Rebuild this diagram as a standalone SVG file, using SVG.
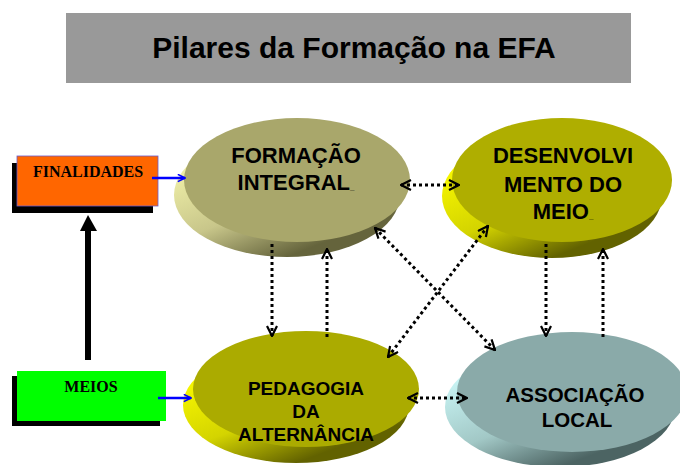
<svg xmlns="http://www.w3.org/2000/svg" width="680" height="465" viewBox="0 0 680 465">
<defs>
<style>
.ttl{font-family:"Liberation Sans",Arial,sans-serif;font-weight:bold;font-size:30px;fill:#000;text-anchor:middle}
.nt{font-family:"Liberation Sans",Arial,sans-serif;font-weight:bold;fill:#000;text-anchor:middle}
.bx{font-family:"Liberation Serif","Times New Roman",serif;font-weight:bold;font-size:16px;fill:#000;text-anchor:middle}
.dot{fill:none;stroke:#000;stroke-width:3;stroke-dasharray:3 3}
.blue{fill:none;stroke:#0000FF;stroke-width:2.5}
.sm{font-size:8px}
</style>
<marker id="chev" viewBox="0 0 12 12" refX="11" refY="6" markerWidth="12" markerHeight="12" markerUnits="userSpaceOnUse" orient="auto-start-reverse">
<path d="M1,1 L11,6 L1,11" fill="none" stroke="#000" stroke-width="2.2"/>
</marker>
<marker id="bchev" viewBox="0 0 10 10" refX="9" refY="5" markerWidth="9" markerHeight="9" markerUnits="userSpaceOnUse" orient="auto">
<path d="M1,1 L9,5 L1,9" fill="none" stroke="#0000FF" stroke-width="1.8"/>
</marker>
<linearGradient id="gF" x1="0" y1="0.3" x2="0.5" y2="1">
<stop offset="0" stop-color="#F0F0A8"/><stop offset="0.55" stop-color="#C8C68A"/><stop offset="1" stop-color="#65643C"/>
</linearGradient>
<linearGradient id="gY" x1="0" y1="0.3" x2="0.5" y2="1">
<stop offset="0" stop-color="#F8F800"/><stop offset="0.55" stop-color="#D4D400"/><stop offset="1" stop-color="#626200"/>
</linearGradient>
<linearGradient id="gA" x1="0" y1="0.3" x2="0.5" y2="1">
<stop offset="0" stop-color="#C8F4F4"/><stop offset="0.55" stop-color="#A2C8C6"/><stop offset="1" stop-color="#4C6463"/>
</linearGradient>
</defs>

<g id="title">
<rect x="66" y="13" width="565" height="70" fill="#999999"/>
<text class="ttl" x="354" y="58">Pilares da Formação na EFA</text>
</g>

<g id="finalidades">
<rect x="12" y="163" width="141" height="50" fill="#000"/>
<rect x="17" y="156" width="141" height="50" fill="#FF6600" stroke="#6a5acd" stroke-width="0.8"/>
<text class="bx" x="88" y="177">FINALIDADES</text>
</g>

<g id="meios">
<rect x="12" y="376" width="148" height="50" fill="#000"/>
<rect x="17" y="371" width="149" height="50" fill="#00FF00"/>
<text class="bx" x="91" y="392">MEIOS</text>
</g>

<g id="formacao">
<ellipse cx="287" cy="195" rx="113" ry="62" fill="url(#gF)"/>
<ellipse cx="297" cy="180" rx="113" ry="62" fill="#A9A76B"/>
<text class="nt" font-size="22" x="296" y="163">FORMAÇÃO</text>
<text class="nt" font-size="22" x="296" y="190">INTEGRAL<tspan class="sm">_</tspan></text>
</g>

<g id="desenvolvimento">
<ellipse cx="552" cy="196" rx="110" ry="62" fill="url(#gY)"/>
<ellipse cx="562" cy="180" rx="110" ry="62" fill="#AFAE00"/>
<text class="nt" font-size="22" x="563" y="163">DESENVOLVI</text>
<text class="nt" font-size="22" x="563" y="192">MENTO DO</text>
<text class="nt" font-size="22" x="563" y="219">MEIO<tspan class="sm">_</tspan></text>
</g>

<g id="pedagogia">
<ellipse cx="296" cy="405" rx="113" ry="58" fill="url(#gY)"/>
<ellipse cx="306" cy="389" rx="113" ry="58" fill="#ABAB00"/>
<text class="nt" font-size="19" x="306" y="395">PEDAGOGIA</text>
<text class="nt" font-size="19" x="306" y="418">DA</text>
<text class="nt" font-size="19" x="306" y="441">ALTERNÂNCIA</text>
</g>

<g id="associacao">
<ellipse cx="560" cy="407" rx="115" ry="60" fill="url(#gA)"/>
<ellipse cx="572" cy="392" rx="115" ry="60" fill="#8AAAA9"/>
<text class="nt" font-size="20.5" x="575" y="402">ASSOCIAÇÃO</text>
<text class="nt" font-size="20.5" x="577" y="427">LOCAL</text>
</g>

<g id="connectors">
<polygon points="80,231 88,215 97,231" fill="#000"/>
<line x1="88" y1="230" x2="88" y2="360" stroke="#000" stroke-width="6"/>
<line class="blue" x1="152" y1="178" x2="185" y2="178" marker-end="url(#bchev)"/>
<line class="blue" x1="158" y1="398" x2="191" y2="398" marker-end="url(#bchev)"/>
<line class="dot" x1="401" y1="185" x2="459" y2="185" marker-start="url(#chev)" marker-end="url(#chev)"/>
<line class="dot" x1="408" y1="398" x2="467" y2="398" marker-start="url(#chev)" marker-end="url(#chev)"/>
<line class="dot" x1="272" y1="244" x2="272" y2="336" marker-end="url(#chev)"/>
<line class="dot" x1="327" y1="337" x2="327" y2="249" marker-end="url(#chev)"/>
<line class="dot" x1="546" y1="244" x2="546" y2="336" marker-end="url(#chev)"/>
<line class="dot" x1="603" y1="337" x2="603" y2="249" marker-end="url(#chev)"/>
<line class="dot" x1="375" y1="228" x2="495" y2="350" marker-start="url(#chev)" marker-end="url(#chev)"/>
<line class="dot" x1="388" y1="357" x2="488" y2="226" marker-start="url(#chev)" marker-end="url(#chev)"/>
</g>
</svg>
